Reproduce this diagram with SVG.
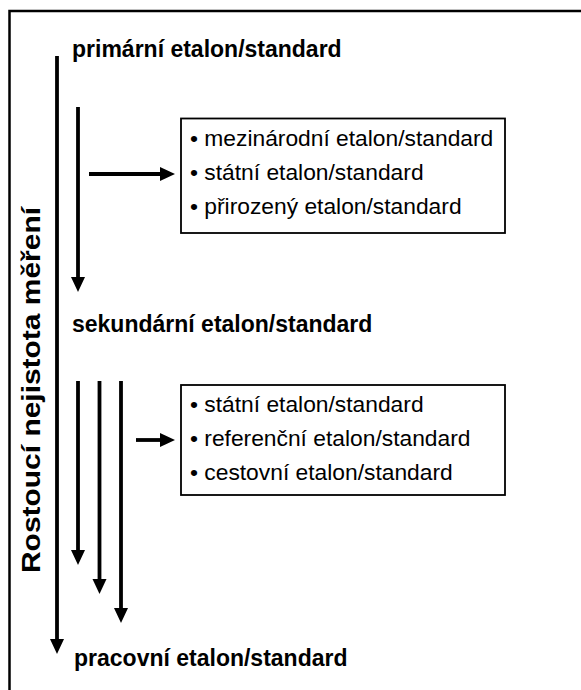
<svg xmlns="http://www.w3.org/2000/svg" width="581" height="690" viewBox="0 0 581 690">
  <defs>
    <!-- solid triangular arrowhead, attached at the end of a shaft -->
    <marker id="head" markerUnits="userSpaceOnUse" markerWidth="15" markerHeight="14" refX="0" refY="7" orient="auto" overflow="visible">
      <path d="M0,0 L15,7 L0,14 Z" fill="#000"/>
    </marker>
  </defs>
  <style>
    .frame { fill: none; stroke: #000; stroke-width: 2.5; }
    .box { fill: #fff; stroke: #000; stroke-width: 1.8; }
    .shaft { stroke: #000; stroke-width: 3.8; fill: none; marker-end: url(#head); }
    .title { font-family: "Liberation Sans", Arial, sans-serif; font-weight: bold; font-size: 23px; fill: #000; }
    .item { font-family: "Liberation Sans", Arial, sans-serif; font-size: 22.8px; fill: #000; }
    .axis { font-family: "Liberation Sans", Arial, sans-serif; font-weight: bold; font-size: 25px; fill: #000; }
  </style>

  <rect width="581" height="690" fill="#fff"/>
  <!-- outer frame, open to the right and bottom edges -->
  <rect class="frame" x="9.5" y="11" width="620" height="720"/>

  <g id="connectors">
    <line class="shaft" x1="57" y1="56" x2="57" y2="639"/>
    <line class="shaft" x1="78" y1="107" x2="78" y2="277"/>
    <line class="shaft" x1="89" y1="174" x2="160" y2="174"/>
    <line class="shaft" x1="78" y1="381" x2="78" y2="550"/>
    <line class="shaft" x1="99.5" y1="381" x2="99.5" y2="579"/>
    <line class="shaft" x1="121" y1="381" x2="121" y2="608"/>
    <line class="shaft" x1="136" y1="440" x2="160" y2="440"/>
  </g>

  <g id="axis-label">
    <text class="axis" transform="translate(40,390) rotate(-90)" text-anchor="middle" textLength="366" lengthAdjust="spacingAndGlyphs">Rostoucí nejistota měření</text>
  </g>

  <g id="primary">
    <text class="title" x="72" y="57">primární etalon/standard</text>
  </g>

  <g id="primary-kinds">
    <rect class="box" x="181" y="118.5" width="324" height="114.5"/>
    <text class="item" x="190" y="146">• mezinárodní etalon/standard</text>
    <text class="item" x="190" y="180">• státní etalon/standard</text>
    <text class="item" x="190" y="214">• přirozený etalon/standard</text>
  </g>

  <g id="secondary">
    <text class="title" x="72" y="332">sekundární etalon/standard</text>
  </g>

  <g id="secondary-kinds">
    <rect class="box" x="181" y="385" width="324" height="110"/>
    <text class="item" x="190" y="412">• státní etalon/standard</text>
    <text class="item" x="190" y="446">• referenční etalon/standard</text>
    <text class="item" x="190" y="480">• cestovní etalon/standard</text>
  </g>

  <g id="working">
    <text class="title" x="74" y="666">pracovní etalon/standard</text>
  </g>
</svg>
